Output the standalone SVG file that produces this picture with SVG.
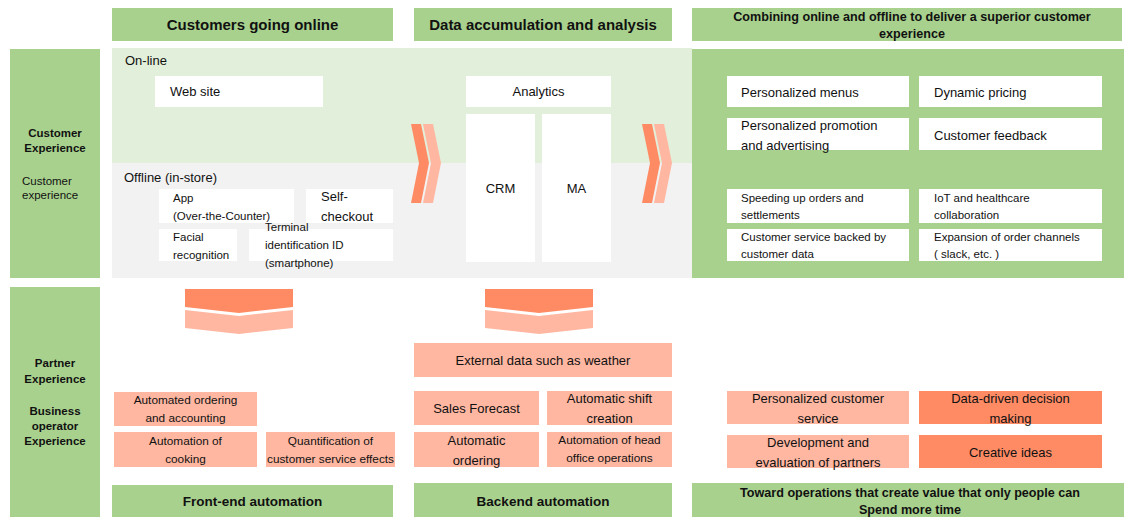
<svg xmlns="http://www.w3.org/2000/svg" width="1124" height="517" viewBox="0 0 1124 517">
<style>
text{font-family:"Liberation Sans",Arial,sans-serif;fill:#111;}
.g{fill:#a9d18e;}
.lg{fill:#e2efda;}
.gr{fill:#f2f2f2;}
.w{fill:#ffffff;}
.s{fill:#ffb7a1;}
.d{fill:#ff8b65;}
.hb{font-size:15px;font-weight:bold;text-anchor:middle;}
.hs{font-size:12.6px;font-weight:bold;text-anchor:middle;}
.lb{font-size:11.5px;font-weight:bold;text-anchor:middle;}
.t{font-size:13px;}
.tc{font-size:13px;text-anchor:middle;}
.sm{font-size:11.5px;}
.smc{font-size:11.8px;text-anchor:middle;}
.fb{font-size:13.5px;font-weight:bold;text-anchor:middle;}
</style>
<rect width="1124" height="517" fill="#ffffff"/>
<g id="bands">
<rect class="lg" x="112" y="48" width="580" height="115"/>
<rect class="gr" x="112" y="163" width="580" height="115"/>
<rect class="g" x="692" y="49" width="432" height="229"/>
<text class="t" x="125" y="65">On-line</text>
<text class="t" x="124" y="182">Offline (in-store)</text>
</g>
<g id="header1"><rect class="g" x="112" y="8" width="281" height="33"/><text class="hb" x="252.5" y="30">Customers going online</text></g>
<g id="header2"><rect class="g" x="414" y="8" width="258" height="33"/><text class="hb" x="543" y="30">Data accumulation and analysis</text></g>
<g id="header3"><rect class="g" x="692" y="8" width="430" height="33"/><text class="hs" x="912" y="21">Combining online and offline to deliver a superior customer</text><text class="hs" x="912" y="38">experience</text></g>
<g id="row-customer"><rect class="g" x="10" y="49" width="90" height="229"/>
<text class="lb" x="55" y="137">Customer</text><text class="lb" x="55" y="152">Experience</text>
<text class="sm" x="22" y="185">Customer</text><text class="sm" x="22" y="199">experience</text></g>
<g id="row-partner"><rect class="g" x="10" y="287" width="90" height="230"/>
<text class="lb" x="55" y="367">Partner</text><text class="lb" x="55" y="383">Experience</text>
<text class="lb" x="55" y="415">Business</text><text class="lb" x="55" y="430">operator</text><text class="lb" x="55" y="445">Experience</text></g>
<g id="website"><rect class="w" x="155" y="76" width="168" height="31"/><text class="t" x="170" y="96">Web site</text></g>
<g id="app"><rect class="w" x="159" y="189" width="135" height="34"/><text class="sm" x="173" y="202">App</text><text class="sm" x="173" y="220">(Over-the-Counter)</text></g>
<g id="selfcheckout"><rect class="w" x="306" y="189" width="87" height="34"/><text class="t" x="321" y="201">Self-</text><text class="t" x="321" y="221">checkout</text></g>
<g id="facial"><rect class="w" x="159" y="229" width="78" height="32"/><text class="sm" x="173" y="241">Facial</text><text class="sm" x="173" y="259">recognition</text></g>
<g id="terminal"><rect class="w" x="249" y="229" width="144" height="32"/><text class="sm" x="265" y="231">Terminal</text><text class="sm" x="265" y="249">identification ID</text><text class="sm" x="265" y="267">(smartphone)</text></g>
<g id="analytics"><rect class="w" x="466" y="76" width="145" height="31"/><text class="tc" x="538.5" y="96">Analytics</text></g>
<g id="crm"><rect class="w" x="466" y="114" width="69" height="148"/><text class="tc" x="500.5" y="193">CRM</text></g>
<g id="ma"><rect class="w" x="542" y="114" width="69" height="148"/><text class="tc" x="576.5" y="193">MA</text></g>
<g id="pmenus"><rect class="w" x="727" y="76" width="182" height="31"/><text class="t" x="741" y="97">Personalized menus</text></g>
<g id="dynpricing"><rect class="w" x="919" y="76" width="183" height="31"/><text class="t" x="934" y="97">Dynamic pricing</text></g>
<g id="ppromo"><rect class="w" x="727" y="118" width="182" height="32"/><text class="t" x="741" y="130">Personalized promotion</text><text class="t" x="741" y="150">and advertising</text></g>
<g id="feedback"><rect class="w" x="919" y="118" width="183" height="32"/><text class="t" x="934" y="140">Customer feedback</text></g>
<g id="speeding"><rect class="w" x="727" y="189" width="182" height="34"/><text class="sm" x="741" y="202">Speeding up orders and</text><text class="sm" x="741" y="219">settlements</text></g>
<g id="iot"><rect class="w" x="919" y="189" width="183" height="34"/><text class="sm" x="934" y="202">IoT and healthcare</text><text class="sm" x="934" y="219">collaboration</text></g>
<g id="custservice"><rect class="w" x="727" y="229" width="182" height="32"/><text class="sm" x="741" y="241">Customer service backed by</text><text class="sm" x="741" y="258">customer data</text></g>
<g id="expansion"><rect class="w" x="919" y="229" width="183" height="32"/><text class="sm" x="934" y="241">Expansion of order channels</text><text class="sm" x="934" y="258"> ( slack, etc. )</text></g>
<g id="connectors">
<polygon class="d" points="411,124 421,124 429,163 421,203 411,203 419,163"/>
<polygon class="s" points="423,124 433,124 441,163 433,203 423,203 431,163"/>
<polygon class="d" points="642,124 652,124 660,163 652,203 642,203 650,163"/>
<polygon class="s" points="654,124 664,124 672,163 664,203 654,203 662,163"/>
<polygon class="d" points="185,289 293,289 293,307 239,313 185,307"/>
<polygon class="s" points="185,310 239,316 293,310 293,328 239,334 185,328"/>
<polygon class="d" points="485,289 593,289 593,307 539,313 485,307"/>
<polygon class="s" points="485,310 539,316 593,310 593,328 539,334 485,328"/>
</g>
<g id="autoorder"><rect class="s" x="114" y="392" width="143" height="34"/><text class="smc" x="185.5" y="404">Automated ordering</text><text class="smc" x="185.5" y="422">and accounting</text></g>
<g id="autocook"><rect class="s" x="114" y="432" width="143" height="35"/><text class="smc" x="185.5" y="445">Automation of</text><text class="smc" x="185.5" y="463">cooking</text></g>
<g id="quant"><rect class="s" x="266" y="432" width="129" height="35"/><text class="smc" x="330.5" y="445">Quantification of</text><text class="smc" x="330.5" y="463">customer service effects</text></g>
<g id="frontend"><rect class="g" x="112" y="485" width="281" height="32"/><text class="fb" x="252.5" y="506">Front-end automation</text></g>
<g id="external"><rect class="s" x="414" y="343" width="258" height="34"/><text class="tc" x="543" y="365">External data such as weather</text></g>
<g id="sales"><rect class="s" x="414" y="391" width="125" height="34"/><text class="tc" x="476.5" y="413">Sales Forecast</text></g>
<g id="shift"><rect class="s" x="547" y="391" width="125" height="34"/><text class="tc" x="609.5" y="403">Automatic shift</text><text class="tc" x="609.5" y="423">creation</text></g>
<g id="autoordering"><rect class="s" x="414" y="432" width="125" height="35"/><text class="tc" x="476.5" y="445">Automatic</text><text class="tc" x="476.5" y="465">ordering</text></g>
<g id="headoffice"><rect class="s" x="547" y="432" width="125" height="35"/><text class="smc" x="609.5" y="444">Automation of head</text><text class="smc" x="609.5" y="462">office operations</text></g>
<g id="backend"><rect class="g" x="414" y="483" width="258" height="34"/><text class="fb" x="543" y="506">Backend automation</text></g>
<g id="pcs"><rect class="s" x="727" y="391" width="182" height="33"/><text class="tc" x="818" y="403">Personalized customer</text><text class="tc" x="818" y="423">service</text></g>
<g id="datadriven"><rect class="d" x="919" y="391" width="183" height="33"/><text class="tc" x="1010.5" y="403">Data-driven decision</text><text class="tc" x="1010.5" y="423">making</text></g>
<g id="development"><rect class="s" x="727" y="435" width="182" height="33"/><text class="tc" x="818" y="447">Development and</text><text class="tc" x="818" y="467">evaluation of partners</text></g>
<g id="creative"><rect class="d" x="919" y="435" width="183" height="33"/><text class="tc" x="1010.5" y="457">Creative ideas</text></g>
<g id="toward"><rect class="g" x="692" y="483" width="432" height="34"/><text class="hs" x="910" y="497">Toward operations that create value that only people can</text><text class="hs" x="910" y="514">Spend more time</text></g>
</svg>
